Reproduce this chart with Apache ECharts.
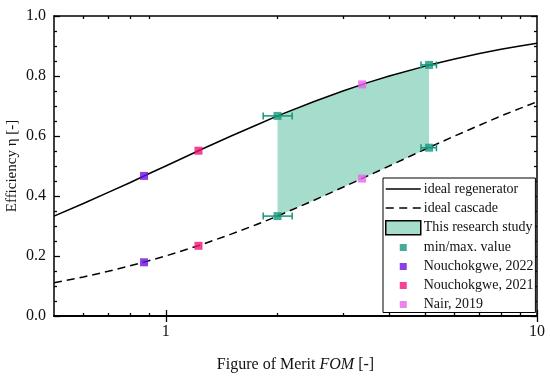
<!DOCTYPE html>
<html><head><meta charset="utf-8">
<script src="https://cdn.jsdelivr.net/npm/echarts@6/dist/echarts.min.js"></script>
<style>html,body{margin:0;padding:0;background:#fff}#c{width:550px;height:381px}</style>
</head><body><div id="c"></div>
<script>
// ---- data ----
const curveX = [0.5,0.6,0.7,0.8,0.9,1,1.25,1.5,1.75,2,2.5,3,3.5,4,5,6,7,8,9,10];
const regenerator = [0.333,0.375,0.412,0.444,0.474,0.5,0.556,0.6,0.636,0.667,0.714,0.75,0.778,0.8,0.833,0.857,0.875,0.889,0.9,0.909];
const cascade = [0.111,0.130,0.149,0.167,0.184,0.2,0.238,0.273,0.304,0.333,0.385,0.429,0.467,0.5,0.556,0.6,0.636,0.667,0.692,0.714];
const bandX = [2,2.5,3,3.5,4,4.5,5.12];
const bandUpper = [0.667,0.714,0.75,0.778,0.8,0.818,0.837];
const bandLower = [0.333,0.385,0.429,0.467,0.5,0.529,0.561];
const minMaxPts = [[2,0.667],[5.12,0.837],[2,0.333],[5.12,0.561]];
const errBars = [[1.83,2.19,0.667],[1.83,2.19,0.333],[4.87,5.36,0.837],[4.87,5.36,0.561]];
const nouch2022 = [[0.874,0.467],[0.874,0.179]];
const nouch2021 = [[1.225,0.551],[1.225,0.234]];
const nair2019 = [[3.38,0.772],[3.38,0.458]];
const xMajorTicks = [1,10];
const xMinorTicks = [0.6,0.7,0.8,0.9,2,3,4,5,6,7,8,9];

const FONT = '"Liberation Serif", "Times New Roman", serif';
const TEAL = '#15967a', FILL = '#a6dccb';
const sq = 'path://M0,0M35,14M14,3.5h7v7h-7z';
const solidIcon = 'path://M0,0M35,14M0,6.25h35v1.5h-35z';
const dashIcon = 'path://M0,0M35,14M0,6.25h8v1.5h-8zM13.5,6.25h8v1.5h-8zM27,6.25h8v1.5h-8z';

function xAxisDef(pos, ticks, len, labels) {
  return {
    type: 'log', logBase: 10, min: 0.5, max: 10, position: pos,
    axisLine: {show: true, lineStyle: {color: '#000', width: 1.5}},
    axisTick: {show: true, inside: true, length: len, lineStyle: {color: '#000', width: 1.3}, customValues: ticks},
    axisLabel: labels ? {show: true, customValues: xMajorTicks, color: '#111', fontFamily: FONT, fontSize: 16, margin: 8,
      formatter: v => String(Math.round(v))} : {show: false},
    splitLine: {show: false}, minorTick: {show: false}
  };
}
function yAxisDef(pos, labels) {
  return {
    type: 'value', min: 0, max: 1, interval: 0.2, position: pos,
    axisLine: {show: true, lineStyle: {color: '#000', width: 1.5}},
    axisTick: {show: true, inside: true, length: 6, lineStyle: {color: '#000', width: 1.3}},
    minorTick: {show: true, splitNumber: 4, length: 3, lineStyle: {color: '#000', width: 1.3}},
    axisLabel: labels ? {show: true, color: '#111', fontFamily: FONT, fontSize: 16, margin: 8,
      formatter: v => v.toFixed(1)} : {show: false},
    splitLine: {show: false}
  };
}

const chart = echarts.init(document.getElementById('c'), null, {renderer: 'canvas'});
chart.setOption({
  animation: false,
  grid: {left: 54, right: 13, top: 16, bottom: 65, containLabel: false, outerBoundsMode: 'none'},
  xAxis: [
    Object.assign(xAxisDef('bottom', xMajorTicks, 6, true), {name: '{n|Figure of Merit }{i|FOM}{n| [-]}', nameLocation: 'middle', nameGap: 41, nameMoveOverlap: false,
      nameTextStyle: {rich: {n: {fontFamily: FONT, fontSize: 16, color: '#111'}, i: {fontFamily: FONT, fontSize: 16, fontStyle: 'italic', color: '#111'}}}}),
    xAxisDef('top', xMajorTicks, 6, false),
    xAxisDef('bottom', xMinorTicks, 3, false),
    xAxisDef('top', xMinorTicks, 3, false)
  ],
  yAxis: [
    Object.assign(yAxisDef('left', true), {name: 'Efficiency η [-]', nameLocation: 'middle', nameGap: 34, nameMoveOverlap: false,
      nameTextStyle: {fontFamily: FONT, fontSize: 15, color: '#111'}}),
    yAxisDef('right', false)
  ],
  legend: {
    orient: 'vertical', left: 383, top: 178, itemWidth: 35, itemHeight: 14, itemGap: 5,
    padding: [4, 2, 1, 2], borderColor: '#000', borderWidth: 1, backgroundColor: '#fff',
    textStyle: {fontFamily: FONT, fontSize: 14, color: '#111', padding: [0,0,0,-2]},
    selectedMode: false,
    data: [
      {name: 'ideal regenerator', icon: solidIcon, itemStyle: {color: '#000'}},
      {name: 'ideal cascade', icon: dashIcon, itemStyle: {color: '#000'}},
      {name: 'This research study', icon: 'rect', itemStyle: {color: FILL, borderColor: '#000', borderWidth: 1.5}},
      {name: 'min/max. value', icon: sq},
      {name: 'Nouchokgwe, 2022', icon: sq},
      {name: 'Nouchokgwe, 2021', icon: sq},
      {name: 'Nair, 2019', icon: sq}
    ]
  },
  series: [
    {
      name: 'This research study', type: 'custom', xAxisIndex: 0, yAxisIndex: 0, z: 1,
      itemStyle: {color: FILL},
      data: [[bandX[0], bandLower[0]]],
      renderItem: function (params, api) {
        const pts = [];
        for (let i = 0; i < bandX.length; i++) pts.push(api.coord([bandX[i], bandUpper[i]]));
        for (let i = bandX.length - 1; i >= 0; i--) pts.push(api.coord([bandX[i], bandLower[i]]));
        return {type: 'polygon', shape: {points: pts}, style: {fill: FILL}};
      }
    },
    {
      name: 'ideal regenerator', type: 'line', symbol: 'none', z: 3,
      data: curveX.map((x, i) => [x, regenerator[i]]),
      lineStyle: {color: '#000', width: 1.5}, itemStyle: {color: '#000'}
    },
    {
      name: 'ideal cascade', type: 'line', symbol: 'none', z: 3,
      data: curveX.map((x, i) => [x, cascade[i]]),
      lineStyle: {color: '#000', width: 1.5, type: [8, 5]}, itemStyle: {color: '#000'}
    },
    {
      name: 'errbars', type: 'custom', z: 4,
      data: errBars,
      renderItem: function (params, api) {
        const a = api.coord([api.value(0), api.value(2)]);
        const b = api.coord([api.value(1), api.value(2)]);
        const h = 3.5;
        const st = {stroke: TEAL, lineWidth: 1.5};
        return {type: 'group', children: [
          {type: 'line', shape: {x1: a[0], y1: a[1], x2: b[0], y2: b[1]}, style: st},
          {type: 'line', shape: {x1: a[0], y1: a[1] - h, x2: a[0], y2: a[1] + h}, style: st},
          {type: 'line', shape: {x1: b[0], y1: b[1] - h, x2: b[0], y2: b[1] + h}, style: st}
        ]};
      }
    },
    {name: 'min/max. value', type: 'scatter', symbol: 'rect', symbolSize: 8, z: 5, data: minMaxPts, itemStyle: {color: TEAL}},
    {name: 'Nouchokgwe, 2022', type: 'scatter', symbol: 'rect', symbolSize: 8, z: 5, data: nouch2022, itemStyle: {color: '#6b12de'}},
    {name: 'Nouchokgwe, 2021', type: 'scatter', symbol: 'rect', symbolSize: 8, z: 5, data: nouch2021, itemStyle: {color: '#f01479'}},
    {name: 'Nair, 2019', type: 'scatter', symbol: 'rect', symbolSize: 8, z: 5, data: nair2019, itemStyle: {color: '#e765ec'}}
  ]
});
</script></body></html>
